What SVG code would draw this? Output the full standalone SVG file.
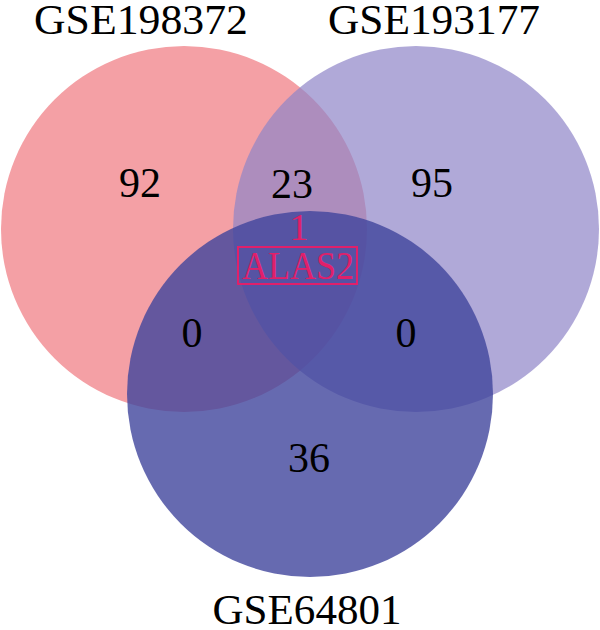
<svg xmlns="http://www.w3.org/2000/svg" width="600" height="630" viewBox="0 0 600 630">
<style>
text{font-family:"Liberation Serif","Times New Roman",serif;text-anchor:middle;fill:#000}
.title{font-size:43px}
.num{font-size:42px}
.hl{fill:#E0206A}
</style>
<rect width="600" height="630" fill="#fff"/>
<g id="set-GSE198372">
<circle cx="184" cy="229" r="183" fill="#F4A0A5"/>
<text class="title" x="141" y="34" textLength="214" lengthAdjust="spacingAndGlyphs">GSE198372</text>
</g>
<g id="set-GSE193177">
<circle cx="416" cy="229" r="183" fill="#8E85C7" fill-opacity="0.7"/>
<text class="title" x="434" y="34" textLength="212" lengthAdjust="spacingAndGlyphs">GSE193177</text>
</g>
<g id="set-GSE64801">
<circle cx="310" cy="394" r="183" fill="#40459C" fill-opacity="0.8"/>
<text class="title" x="307" y="624" textLength="189" lengthAdjust="spacingAndGlyphs">GSE64801</text>
</g>
<g id="counts">
<text class="num" x="140" y="197">92</text>
<text class="num" x="292" y="198">23</text>
<text class="num" x="432" y="197">95</text>
<text class="num" x="192" y="347">0</text>
<text class="num" x="406" y="347">0</text>
<text class="num" x="309" y="472">36</text>
</g>
<g id="core">
<text class="hl" x="299" y="240" font-size="38">1</text>
<rect x="238" y="247" width="119" height="37" fill="none" stroke="#E0206A" stroke-width="2"/>
<text class="hl" x="298" y="279" font-size="40" textLength="112" lengthAdjust="spacingAndGlyphs">ALAS2</text>
</g>
<g id="connectors"/>
</svg>
